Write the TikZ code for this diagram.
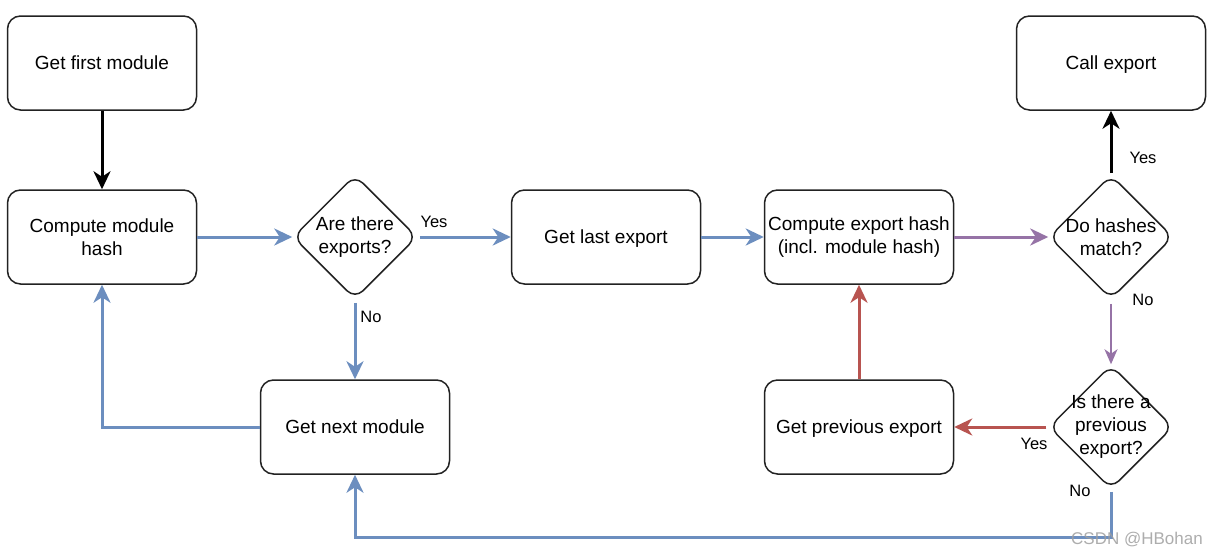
\documentclass[tikz,border=0pt]{standalone}
\usepackage{fontspec}
\setmainfont{Liberation Sans}
\usetikzlibrary{shapes.geometric,arrows.meta}
\definecolor{cblue}{HTML}{6C8EBF}
\definecolor{cpurple}{HTML}{9673A6}
\definecolor{cred}{HTML}{B85450}
\definecolor{cline}{HTML}{222222}
\begin{document}
\begin{tikzpicture}[x=1pt,y=-1pt,
  box/.style={draw=cline, line width=1.5pt, rounded corners=13pt, minimum width=189pt, minimum height=94pt, inner sep=1pt, align=center, font=\fontsize{19}{23}\selectfont},
  oneline/.style={text height=13.8pt, text depth=0pt},
  dia/.style={draw=cline, diamond, line width=1.5pt, rounded corners=11pt, minimum width=124pt, minimum height=124pt, inner sep=0pt},
  dtext/.style={align=center, inner sep=0pt, font=\fontsize{19}{23}\selectfont},
  lbl/.style={inner sep=0pt, font=\fontsize{16.5}{20}\selectfont},
  arr/.style={line width=3pt, -{Stealth[length=18pt,width=17pt,inset=5.5pt]}},
  thinarr/.style={line width=1.8pt, -{Stealth[length=15pt,width=13pt,inset=4.5pt]}},
]
\path[fill=white, use as bounding box] (0,0) rectangle (1224,557);

% boxes
\node[box, oneline] (gf) at (102,63) {Get first module};
\node[box] (cm) at (102,237) {Compute module\\hash};
\node[box, oneline] (gl) at (606,237) {Get last export};
\node[box] (ce) at (859,237) {Compute export hash\\(incl. module hash)};
\node[box, oneline] (ca) at (1111,63) {Call export};
\node[box, oneline] (gp) at (859,427) {Get previous export};
\node[box, oneline] (gn) at (355,427) {Get next module};

% diamonds
\node[dia] (d1) at (355,237) {};
\node[dtext] (d1t) at (355,237) {Are there\\exports?};
\node[dia] (d2) at (1111,237) {};
\node[dtext] (d2t) at (1111,237) {Do hashes\\match?};
\node[dia] (d3) at (1111,427) {};
\node[dtext] (d3t) at (1111,427) {Is there a\\previous\\export?};

% helper coordinates
\coordinate (c1) at (1111,537);

% connectors
\draw[arr, black] (gf) -- (cm);
\draw[arr, cblue] (cm) -- (d1);
\draw[arr, cblue, shorten <=2pt] (d1) -- (gl);
\draw[arr, cblue] (gl) -- (ce);
\draw[arr, cpurple] (ce) -- (d2);
\draw[arr, black, shorten <=1pt] (d2) -- (ca);
\draw[thinarr, cpurple, shorten <=4pt] (d2) -- (d3);
\draw[arr, cred, shorten <=2pt] (d3) -- (gp);
\draw[arr, cred] (gp) -- (ce);
\draw[arr, cblue, shorten <=3pt] (d1) -- (gn);
\draw[arr, cblue, shorten <=2pt] (d3.south) -- (c1) -| (gn.south);
\draw[arr, cblue] (gn.west) -| (cm.south);

% labels
\node[lbl] (l1) at (434,222) {Yes};
\node[lbl] (l2) at (371,317) {No};
\node[lbl] (l3) at (1143,158) {Yes};
\node[lbl] (l4) at (1143,300) {No};
\node[lbl] (l5) at (1034,444) {Yes};
\node[lbl] (l6) at (1080,491) {No};

% watermark
\node[inner sep=0pt, text=gray!75, opacity=0.85, font=\fontsize{17}{20}\selectfont] (wm) at (1137,540) {CSDN @HBohan};
\end{tikzpicture}
\end{document}
